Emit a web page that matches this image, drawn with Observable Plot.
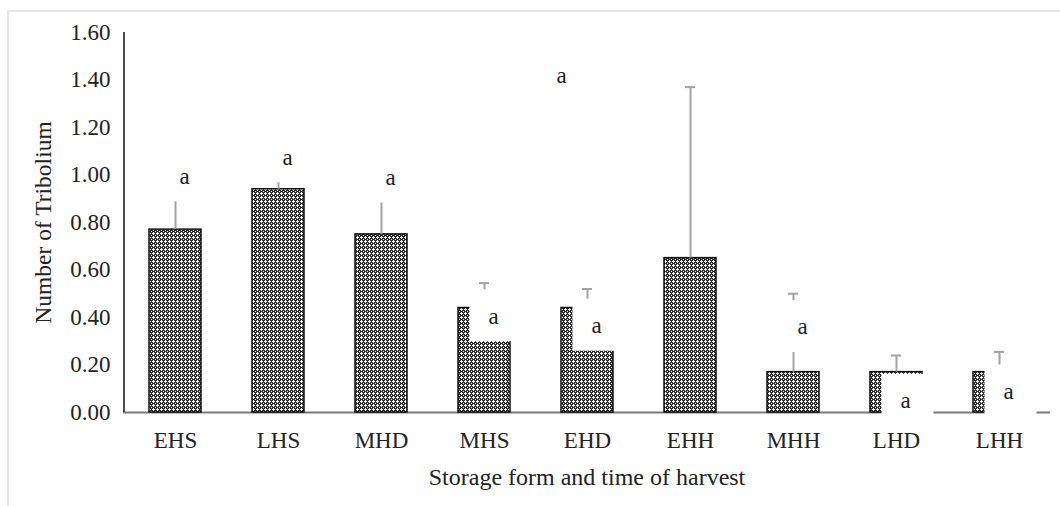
<!DOCTYPE html>
<html><head><meta charset="utf-8">
<script src="https://cdn.jsdelivr.net/npm/d3@7"></script>
<script src="https://cdn.jsdelivr.net/npm/@observablehq/plot@0.6"></script>
<style>
body{margin:0;background:#fff;overflow:hidden}
#frame{position:absolute;left:7px;top:10px;width:1080px;height:520px;border:2px solid #e6e6e6;box-sizing:border-box}
#chart{position:absolute;left:0;top:0}
</style></head><body>
<div id="frame"></div><div id="chart"></div>
<script>
const categories = ["EHS","LHS","MHD","MHS","EHD","EHH","MHH","LHD","LHH"];
const means      = [0.77, 0.94, 0.75, 0.44, 0.44, 0.65, 0.17, 0.17, 0.17];
const errorTops  = [0.90, 0.985, 0.90, 0.545, 0.52, 1.37, 0.50, 0.24, 0.255];
const letters    = ["a","a","a","a","a","a","a","a","a"];
const letterY    = [0.995, 1.075, 0.99, 0.405, 0.365, 1.42, 0.36, 0.05, 0.088];
const yTicks     = [0, 0.2, 0.4, 0.6, 0.8, 1.0, 1.2, 1.4, 1.6];
const xTitle = "Storage form and time of harvest";
const yTitle = "Number of Tribolium";

const data = categories.map((c, i) => ({cat: c, mean: means[i], err: errorTops[i], letter: letters[i], ly: letterY[i]}));
const mainLabels = data.filter(d => d.cat !== "EHH");
const offLabels = data.filter(d => d.cat === "EHH");

const boxSymbol = {draw(ctx) { ctx.rect(-24, -27, 52, 52); }};
const font = "'Liberation Serif', 'Times New Roman', serif";

const plot = Plot.plot({
  width: 1060, height: 506,
  marginLeft: 123, marginRight: 10, marginTop: 32, marginBottom: 94,
  style: {fontFamily: font, fontSize: "23px", background: "transparent", color: "#222"},
  x: {domain: categories, paddingInner: 0.5, paddingOuter: 0.25, label: null},
  y: {domain: [0, 1.6], label: null},
  marks: [
    Plot.ruleY([0], {stroke: "#7a7a7a", strokeWidth: 2}),
    Plot.barY(data, {x: "cat", y: "mean", fill: "url(#xhatch)", stroke: "#111", strokeWidth: 1.5}),
    Plot.ruleX(data, {x: "cat", y1: "mean", y2: "err", stroke: "#a3a3a3", strokeWidth: 2}),
    Plot.tickY(data, {x: "cat", y: "err", stroke: "#a3a3a3", strokeWidth: 2, insetLeft: 21, insetRight: 21}),
    Plot.dot(mainLabels, {x: "cat", y: "ly", symbol: boxSymbol, fill: "white", stroke: "none", dx: 9, r: 10}),
    Plot.dot(offLabels, {x: "cat", y: "ly", symbol: boxSymbol, fill: "white", stroke: "none", dx: -129, r: 10}),
    Plot.text(mainLabels, {x: "cat", y: "ly", text: "letter", dx: 9, fontSize: 23, fill: "#222"}),
    Plot.text(offLabels, {x: "cat", y: "ly", text: "letter", dx: -129, fontSize: 23, fill: "#222"}),
    Plot.ruleX([categories[0]], {y1: 0, y2: 1.6, dx: -51.5, stroke: "#111", strokeWidth: 1.5}),
    Plot.axisY({ticks: yTicks, tickFormat: d => d.toFixed(2), tickSize: 0, tickPadding: 13, label: null, fontSize: 23}),
    Plot.axisX({tickSize: 0, tickPadding: 19, label: null, fontSize: 23}),
    Plot.text([xTitle], {frameAnchor: "bottom", dy: 72, fontSize: 24, fill: "#222"}),
    Plot.text([yTitle], {frameAnchor: "left", dx: -80, rotate: -90, textAnchor: "middle", fontSize: 23.5, fill: "#222"})
  ]
});

const defs = d3.create("svg:defs");
const pat = defs.append("pattern").attr("id", "xhatch").attr("patternUnits", "userSpaceOnUse")
  .attr("width", 4).attr("height", 4);
pat.append("rect").attr("width", 4).attr("height", 4).attr("fill", "#2e2e2e");
[[1,0],[0,1],[1,1],[2,1],[1,2],[3,3]].forEach(([x, y]) =>
  pat.append("rect").attr("x", x).attr("y", y).attr("width", 1).attr("height", 1).attr("fill", "#f6f6f6"));
plot.insertBefore(defs.node(), plot.firstChild);
document.getElementById("chart").appendChild(plot);
</script>
</body></html>
